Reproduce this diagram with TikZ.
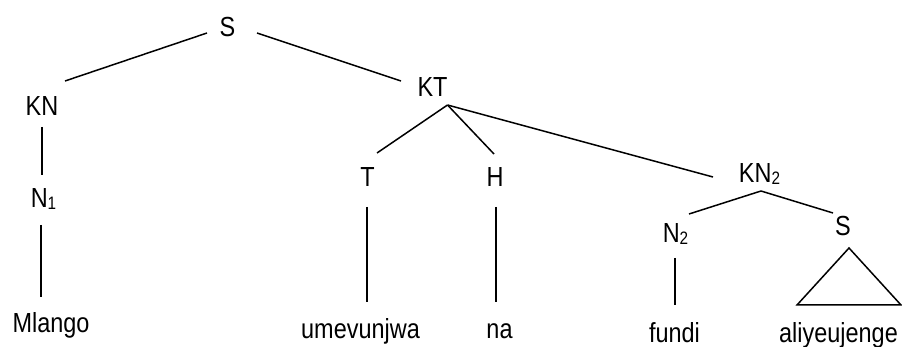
\documentclass[tikz,border=0pt]{standalone}
\usepackage{fontspec}
\setmainfont{Liberation Sans}[FakeStretch=0.85]
\usepackage{tikz}

% lowered index on a category label
\newcommand{\lowidx}[1]{\raisebox{-1.5pt}{\fontsize{18}{20}\selectfont #1}}

\begin{document}
\begin{tikzpicture}[
  x=1pt, y=-1pt,
  every node/.style={font=\fontsize{27.6}{30}\selectfont, inner sep=0pt, anchor=base},
  branch/.style={line width=1.5pt}
]
\useasboundingbox (0,0) rectangle (902,347);

% Category labels
\node (S) at (227.5,37) {S};
\node (KN) at (42,116) {KN};
\node (KT) at (432.5,97) {KT};
\node (N1) at (43.5,208) {N\lowidx{1}};
\node (T) at (367.5,187) {T};
\node (H) at (495,187) {H};
\node (KN2) at (759.5,183) {KN\lowidx{2}};
\node (N2) at (675.5,243) {N\lowidx{2}};
\node (S2) at (843,236) {S};

% Words
\node (mlango) at (51,332) {Mlango};
\node (umevunjwa) at (360.5,338) {umevunjwa};
\node (na) at (499.5,338) {na};
\node (fundi) at (674.5,342) {fundi};
\node (aliyeujenge) at (838.5,342) {aliyeujenge};

% Branches
\draw[branch] ([shift={(-20.5,-4)}]S.base) -- ([shift={(23,-35)}]KN.base);
\draw[branch] ([shift={(29.5,-4)}]S.base) -- ([shift={(-31.5,-16)}]KT.base);
\draw[branch] ([shift={(0,11)}]KN.base) -- ([shift={(-1.5,-33)}]N1.base);
\draw[branch] ([shift={(-2.5,17)}]N1.base) -- ([shift={(-10,-35)}]mlango.base);
\draw[branch] ([shift={(15,8)}]KT.base) -- ([shift={(9.5,-34)}]T.base);
\draw[branch] ([shift={(15,8)}]KT.base) -- ([shift={(-1,-33)}]H.base);
\draw[branch] ([shift={(15,8)}]KT.base) -- ([shift={(-46.5,-6)}]KN2.base);
\draw[branch] ([shift={(-0.5,20)}]T.base) -- ([shift={(6.5,-36)}]umevunjwa.base);
\draw[branch] ([shift={(1,20)}]H.base) -- ([shift={(-3.5,-36)}]na.base);
\draw[branch] ([shift={(1.5,8)}]KN2.base) -- ([shift={(13.5,-29)}]N2.base);
\draw[branch] ([shift={(1.5,8)}]KN2.base) -- ([shift={(-10,-23)}]S2.base);
\draw[branch] ([shift={(-0.5,15)}]N2.base) -- ([shift={(0.5,-37)}]fundi.base);

% Triangle over the relative clause
\draw[branch] ([shift={(6,12)}]S2.base) -- ([shift={(-41.5,-37)}]aliyeujenge.base)
  -- ([shift={(62.5,-37)}]aliyeujenge.base) -- cycle;

\end{tikzpicture}
\end{document}
